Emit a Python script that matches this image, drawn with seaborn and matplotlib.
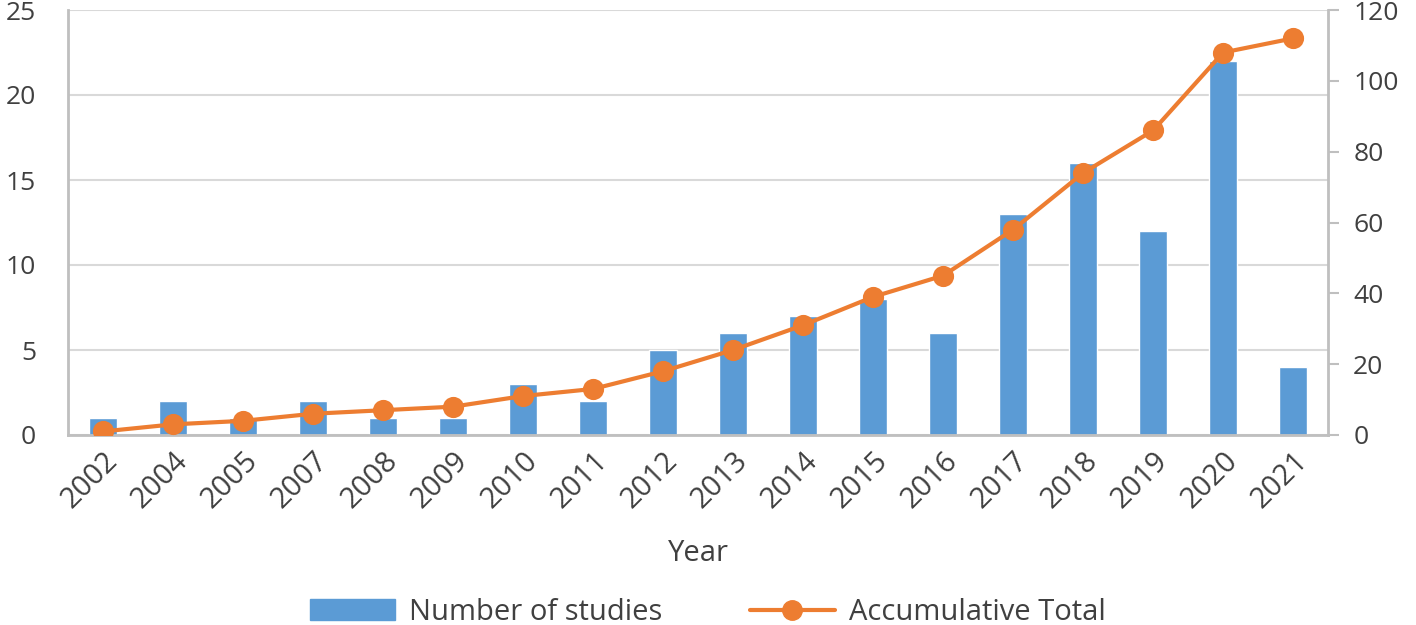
import matplotlib
matplotlib.use("Agg")
import matplotlib.pyplot as plt
import seaborn as sns
import pandas as pd
from matplotlib.patches import Patch
from matplotlib.lines import Line2D

years = ["2002", "2004", "2005", "2007", "2008", "2009", "2010", "2011", "2012",
         "2013", "2014", "2015", "2016", "2017", "2018", "2019", "2020", "2021"]
studies = [1, 2, 1, 2, 1, 1, 3, 2, 5, 6, 7, 8, 6, 13, 16, 12, 22, 4]
cumulative = [1, 3, 4, 6, 7, 8, 11, 13, 18, 24, 31, 39, 45, 58, 74, 86, 108, 112]

BLUE = "#5B9BD5"
ORANGE = "#ED7D31"
GRAY = "#404040"

sns.set_style("white")
plt.rcParams["font.family"] = ["Open Sans", "DejaVu Sans"]

df = pd.DataFrame({"Year": years, "Studies": studies, "Cumulative": cumulative})

fig = plt.figure(figsize=(14.16, 6.25), dpi=100)
ax = fig.add_axes([0.048, 0.304, 0.890, 0.680])

sns.barplot(data=df, x="Year", y="Studies", order=years, color=BLUE,
            width=0.4, saturation=1, ax=ax, zorder=2)
ax.set_ylim(0, 25)
ax.set_yticks([0, 5, 10, 15, 20, 25])
ax.yaxis.grid(True, color="#D9D9D9", linewidth=1.5, zorder=0)
ax.set_axisbelow(True)
ax.set_xlim(-0.5, len(years) - 0.5)
for s in ["top", "right"]:
    ax.spines[s].set_visible(False)
for s in ["left", "bottom"]:
    ax.spines[s].set_color("#BFBFBF")
    ax.spines[s].set_linewidth(2)
ax.tick_params(axis="y", length=0, labelsize=19, labelcolor=GRAY, pad=23)
ax.tick_params(axis="x", length=0, labelsize=21, labelcolor=GRAY, pad=8)
plt.setp(ax.get_xticklabels(), rotation=45, ha="right", rotation_mode="anchor")
ax.set_ylabel("")
ax.set_xlabel("Year", fontsize=21, color=GRAY, labelpad=18)

ax2 = ax.twinx()
sns.pointplot(data=df, x="Year", y="Cumulative", order=years, color=ORANGE,
              markers="o", markersize=13, linewidth=3, ax=ax2)
ax2.set_ylim(0, 120)
ax2.set_yticks([0, 20, 40, 60, 80, 100, 120])
ax2.set_xlim(-0.5, len(years) - 0.5)
ax2.set_ylabel("")
for s in ["top", "left", "bottom"]:
    ax2.spines[s].set_visible(False)
ax2.spines["right"].set_color("#BFBFBF")
ax2.spines["right"].set_linewidth(2)
ax2.tick_params(axis="y", direction="out", length=8, width=1.5, color="#BFBFBF",
                labelsize=19, labelcolor=GRAY, pad=10, right=True)

handles = [Patch(facecolor=BLUE, edgecolor=BLUE),
           Line2D([0], [0], color=ORANGE, linewidth=3, marker="o", markersize=14)]
fig.legend(handles, ["Number of studies", "Accumulative Total"], loc="lower center",
           bbox_to_anchor=(0.5, -0.045), ncol=2, frameon=False, fontsize=21,
           handlelength=2.9, handleheight=0.7, handletextpad=0.5, columnspacing=3.0,
           labelcolor=GRAY)

fig.savefig("out.png", dpi=100)
